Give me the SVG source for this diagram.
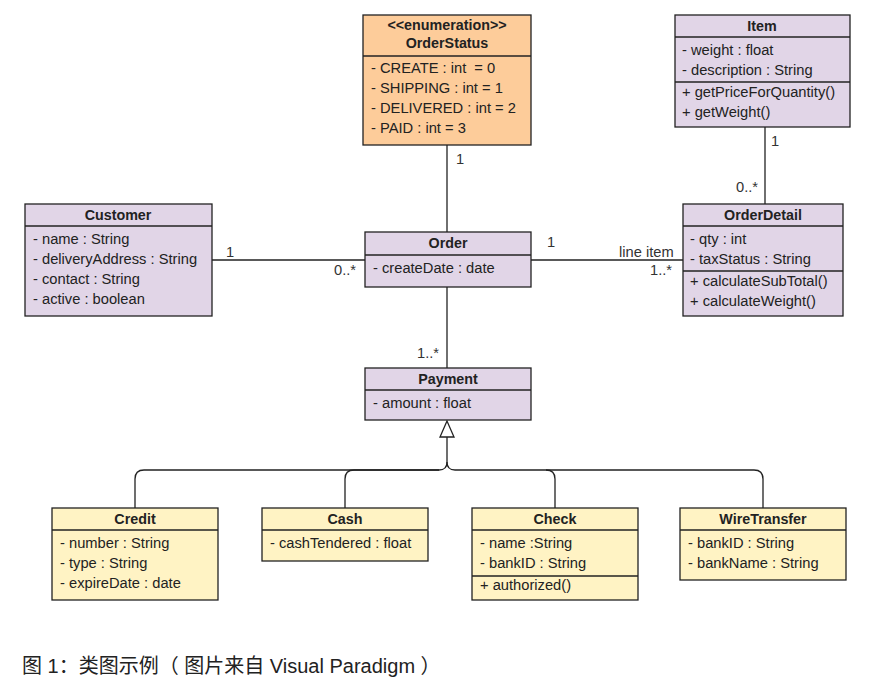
<svg xmlns="http://www.w3.org/2000/svg" width="874" height="688" viewBox="0 0 874 688">
<defs>
<style>
.box{stroke:#222;stroke-width:1.3}
.p{fill:#e1d5e7}
.o{fill:#fdcc9a}
.y{fill:#fff3c4}
.ln{stroke:#222;stroke-width:1.3;fill:none}
text{font-family:"Liberation Sans",Arial,sans-serif;font-size:14.7px;fill:#222;white-space:pre}
.h{font-weight:bold;text-anchor:middle;font-size:14.3px}
.m{fill:#333}
.cap{font-family:"Liberation Sans","Noto Sans CJK SC",sans-serif;font-size:20px;fill:#222}
</style>
</defs>
<rect width="874" height="688" fill="#fff"/>
<g id="connectors">
<path class="ln" d="M447,145 V232"/>
<path class="ln" d="M765,127 V204"/>
<path class="ln" d="M212,260 H365"/>
<path class="ln" d="M531,260 H683"/>
<path class="ln" d="M447,287 V368"/>
<path class="ln" d="M135,508 V479 Q135,470 144,470 H439 Q447,470 447,462 V437"/>
<path class="ln" d="M345,508 V479 Q345,470 354,470 H439"/>
<path class="ln" d="M555,508 V479 Q555,470 546,470 H455 Q447,470 447,462"/>
<path class="ln" d="M763,508 V479 Q763,470 754,470 H546"/>
<polygon points="447,421 440,437 454,437" fill="#fff" stroke="#222" stroke-width="1.3"/>
<text class="m" x="456" y="164">1</text>
<text class="m" x="771" y="146">1</text>
<text class="m" x="736" y="192">0..*</text>
<text class="m" x="226" y="257">1</text>
<text class="m" x="334" y="275">0..*</text>
<text class="m" x="547" y="247">1</text>
<text class="m" x="619" y="257">line item</text>
<text class="m" x="650" y="275">1..*</text>
<text class="m" x="417" y="358">1..*</text>
</g>
<g id="OrderStatus">
<rect class="box o" x="363" y="15" width="168" height="130"/>
<line class="box" x1="363" y1="56" x2="531" y2="56"/>
<text class="h" x="447" y="30">&lt;&lt;enumeration&gt;&gt;</text>
<text class="h" x="447" y="48">OrderStatus</text>
<text x="371" y="73" xml:space="preserve">- CREATE : int  = 0</text>
<text x="371" y="93">- SHIPPING : int = 1</text>
<text x="371" y="113">- DELIVERED : int = 2</text>
<text x="371" y="133">- PAID : int = 3</text>
</g>
<g id="Item">
<rect class="box p" x="675" y="15" width="175" height="112"/>
<line class="box" x1="675" y1="37" x2="850" y2="37"/>
<line class="box" x1="675" y1="82" x2="850" y2="82"/>
<text class="h" x="762" y="31">Item</text>
<text x="682" y="55">- weight : float</text>
<text x="682" y="75">- description : String</text>
<text x="682" y="97">+ getPriceForQuantity()</text>
<text x="682" y="117">+ getWeight()</text>
</g>
<g id="Customer">
<rect class="box p" x="25" y="204" width="187" height="112"/>
<line class="box" x1="25" y1="226" x2="212" y2="226"/>
<text class="h" x="118" y="220">Customer</text>
<text x="33" y="244">- name : String</text>
<text x="33" y="264">- deliveryAddress : String</text>
<text x="33" y="284">- contact : String</text>
<text x="33" y="304">- active : boolean</text>
</g>
<g id="Order">
<rect class="box p" x="365" y="232" width="166" height="55"/>
<line class="box" x1="365" y1="255" x2="531" y2="255"/>
<text class="h" x="448" y="248">Order</text>
<text x="373" y="273">- createDate : date</text>
</g>
<g id="OrderDetail">
<rect class="box p" x="683" y="204" width="160" height="112"/>
<line class="box" x1="683" y1="226" x2="843" y2="226"/>
<line class="box" x1="683" y1="271" x2="843" y2="271"/>
<text class="h" x="763" y="220">OrderDetail</text>
<text x="690" y="244">- qty : int</text>
<text x="690" y="264">- taxStatus : String</text>
<text x="690" y="286">+ calculateSubTotal()</text>
<text x="690" y="306">+ calculateWeight()</text>
</g>
<g id="Payment">
<rect class="box p" x="365" y="368" width="166" height="52"/>
<line class="box" x1="365" y1="390" x2="531" y2="390"/>
<text class="h" x="448" y="384">Payment</text>
<text x="373" y="408">- amount : float</text>
</g>
<g id="Credit">
<rect class="box y" x="52" y="508" width="166" height="92"/>
<line class="box" x1="52" y1="530" x2="218" y2="530"/>
<text class="h" x="135" y="524">Credit</text>
<text x="60" y="548">- number : String</text>
<text x="60" y="568">- type : String</text>
<text x="60" y="588">- expireDate : date</text>
</g>
<g id="Cash">
<rect class="box y" x="262" y="508" width="166" height="53"/>
<line class="box" x1="262" y1="530" x2="428" y2="530"/>
<text class="h" x="345" y="524">Cash</text>
<text x="270" y="548">- cashTendered : float</text>
</g>
<g id="Check">
<rect class="box y" x="472" y="508" width="166" height="92"/>
<line class="box" x1="472" y1="530" x2="638" y2="530"/>
<line class="box" x1="472" y1="576" x2="638" y2="576"/>
<text class="h" x="555" y="524">Check</text>
<text x="480" y="548">- name :String</text>
<text x="480" y="568">- bankID : String</text>
<text x="480" y="590">+ authorized()</text>
</g>
<g id="WireTransfer">
<rect class="box y" x="680" y="508" width="166" height="72"/>
<line class="box" x1="680" y1="530" x2="846" y2="530"/>
<text class="h" x="763" y="524">WireTransfer</text>
<text x="688" y="548">- bankID : String</text>
<text x="688" y="568">- bankName : String</text>
</g>
<text class="cap" x="22" y="673" xml:space="preserve">图 1：类图示例（ 图片来自 Visual Paradigm ）</text>
</svg>
